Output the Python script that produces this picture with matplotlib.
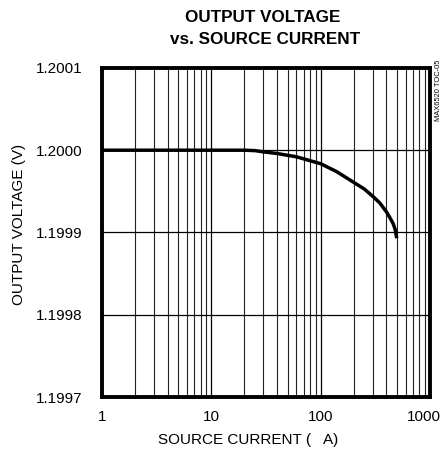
import matplotlib
matplotlib.use("Agg")
import matplotlib.pyplot as plt
from matplotlib.ticker import FixedLocator, NullFormatter
from matplotlib.transforms import ScaledTranslation

# data
current_ua = [1, 10, 20, 25, 30, 40, 60, 100, 140, 170, 200, 250, 300, 350,
              400, 430, 460, 480, 497]
voltage_v = [1.2000, 1.2000, 1.2000, 1.1999995, 1.199998, 1.199996, 1.199992,
             1.1999836, 1.199974, 1.199967, 1.199961, 1.199953, 1.199944, 1.1999355,
             1.199925, 1.199918, 1.199911, 1.199904, 1.199893]

x_ticks = [1, 10, 100, 1000]
x_ticklabels = ["1", "10", "100", "1000"]
y_ticks = [1.1997, 1.1998, 1.1999, 1.2000, 1.2001]
y_ticklabels = ["1.1997", "1.1998", "1.1999", "1.2000", "1.2001"]

plt.rcParams["font.family"] = ["Liberation Sans", "DejaVu Sans"]

fig = plt.figure(figsize=(4.46, 4.59), dpi=100)
ax = fig.add_axes([0.2287, 0.135, 0.7353, 0.717])

ax.plot(current_ua, voltage_v, color="black", lw=2.5, solid_capstyle="butt",
        solid_joinstyle="round")

ax.set_xscale("log")
ax.set_xlim(1, 1000)
ax.set_ylim(1.1997, 1.2001)

minor = [m * d for d in (1, 10, 100) for m in range(2, 10)]
ax.xaxis.set_major_locator(FixedLocator(x_ticks))
ax.xaxis.set_minor_locator(FixedLocator(minor))
ax.xaxis.set_minor_formatter(NullFormatter())
ax.set_xticks(x_ticks, x_ticklabels)
ax.set_yticks(y_ticks, y_ticklabels)
ax.tick_params(which="both", length=0, labelsize=11)
ax.tick_params(axis="y", pad=14)
ax.tick_params(axis="x", pad=9)
ax.grid(which="major", color="black", lw=0.9)
ax.grid(which="minor", axis="x", color="#222222", lw=0.8)
for s in ax.spines.values():
    s.set_linewidth(2.8)

# nudge the last x label inward like the reference
last = ax.get_xticklabels()[-1]
last.set_transform(last.get_transform() + ScaledTranslation(-6 / 100, 0, fig.dpi_scale_trans))

fig.text(0.556, 0.041, "SOURCE CURRENT (   A)", ha="center", va="center", fontsize=11)
fig.text(0.043, 0.512, "OUTPUT VOLTAGE (V)", ha="center", va="center",
         rotation=90, fontsize=11)

fig.text(0.588, 0.961, "OUTPUT VOLTAGE", ha="center", va="center",
         fontsize=12.3, fontweight="bold")
fig.text(0.594, 0.913, "vs. SOURCE CURRENT", ha="center", va="center",
         fontsize=12.3, fontweight="bold")
fig.text(0.984, 0.804, "MAX6520 TOC-05", rotation=90, ha="center", va="center",
         fontsize=5.4)

fig.savefig("out.png", dpi=100)
